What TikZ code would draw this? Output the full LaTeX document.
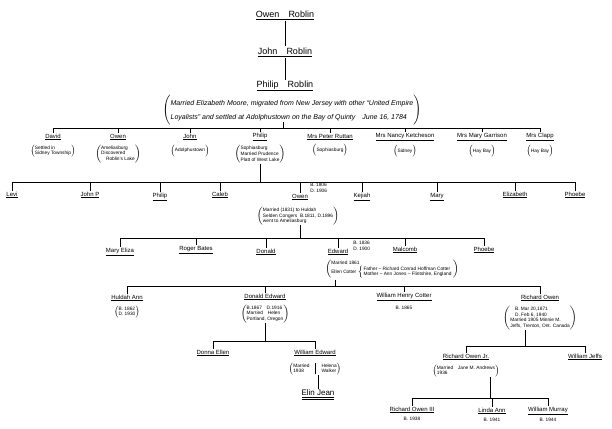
\documentclass[tikz,border=0pt]{standalone}
\usepackage{fontspec}
\setmainfont{Liberation Sans}
\usetikzlibrary{positioning}
\newcommand{\paren}[1]{$\left(\mbox{\begin{tabular}{@{}l@{}}#1\end{tabular}}\right)$}
\newcommand{\ul}[1]{\underline{#1}}
\tikzset{
  person/.style={font=\fontsize{6}{7}\selectfont, inner sep=1pt},
  top/.style={font=\fontsize{9}{10}\selectfont, inner sep=1pt},
  note/.style={font=\fontsize{4.8}{5.6}\selectfont, inner sep=0pt, align=left},
  line/.style={line width=0.5pt}
}
\begin{document}
\begin{tikzpicture}[x=1pt,y=-1pt,line]
    \useasboundingbox (0,0) rectangle (612,428);
    % first generations
    \node[top] (owen0) at (285,15) {\ul{Owen\quad Roblin}};
    \node[top] (john0) at (285,52) {\ul{John\quad Roblin}};
    \node[top] (philip0) at (285,86) {\ul{Philip\quad Roblin}};
    \draw (owen0.south) -- (john0.north);
    \draw (john0.south) -- (philip0.north);
    \node[font=\fontsize{7}{14}\selectfont\itshape, inner sep=0pt] (moore) at (292,110)
      {\paren{Married Elizabeth Moore, migrated from New Jersey with other ``United Empire\\
       Loyalists'' and settled at Adolphustown on the Bay of Quinty\quad June 16, 1784}};
    % his children
    \coordinate (b1) at (283,128);
    \draw (283,122) -- (b1);
    \node[person] (david) at (53,137) {\ul{David}};
    \node[person] (owen1) at (118,137) {\ul{Owen}};
    \node[person] (john1) at (190,137) {\ul{John}};
    \node[person] (philip1) at (260,137) {\ul{Philip}};
    \node[person] (ruttan) at (330,137) {\ul{Mrs Peter Ruttan}};
    \node[person] (ketch) at (405,137) {\ul{Mrs Nancy Ketcheson}};
    \node[person] (garr) at (482,137) {\ul{Mrs Mary Garrison}};
    \node[person] (clapp) at (540,137) {\ul{Mrs Clapp}};
    \foreach \c in {david,owen1,john1,philip1,ruttan,ketch,garr,clapp}
      \draw (b1) -| (\c.north);
    \node[note, below=3pt of david] {\paren{Settled in\\Sidney Township}};
    \node[note, below=3pt of owen1] (amel) {\paren{Ameliasburg\\Discovered\\\quad Roblin's Lake}};
    \node[note, below=3pt of john1] {\paren{Adolphustown}};
    \node[note, below=3pt of philip1] (soph) {\paren{Sophiasburg\\Married Prudence\\Platt of West Lake}};
    \node[note, below=3pt of ruttan] {\paren{Sophiasburg}};
    \node[note, below=3pt of ketch] {\paren{Sidney}};
    \node[note, below=3pt of garr] {\paren{Hay Bay}};
    \node[note, below=3pt of clapp] {\paren{Hay Bay}};
    % Philip's children
    \coordinate (b2) at (260,182);
    \draw (soph.south) -- (b2);
    \node[person] (levi) at (12,195) {\ul{Levi}};
    \node[person] (johnp) at (90,195) {\ul{John P}};
    \node[person] (philip2) at (160,197) {\ul{Philip}};
    \node[person] (caleb) at (220,195) {\ul{Caleb}};
    \node[person] (owen2) at (300,197) {\ul{Owen}};
    \node[person] (kejiah) at (362,197) {\ul{Kejiah}};
    \node[person] (mary) at (437,197) {\ul{Mary}};
    \node[person] (eliz) at (515,195) {\ul{Elizabeth}};
    \node[person] (phoebe1) at (575,195) {\ul{Phoebe}};
    \foreach \c in {levi,johnp,philip2,caleb,owen2,kejiah,mary,eliz,phoebe1}
      \draw (b2) -| (\c.north);
    \node[note, anchor=west] at (310,188) {B. 1806\\D. 1906};
    \node[note] (huldah0) at (298,216) {\paren{Married (1831) to Huldah\\Selden Congers \ B.1811, D.1896\\went to Ameliasburg}};
    % Owen's children
    \coordinate (b3) at (300,238);
    \draw (huldah0.south -| b3) -- (b3);
    \node[person] (maryel) at (120,252) {\ul{Mary Eliza}};
    \node[person] (roger) at (196,250) {\ul{Roger Bates}};
    \node[person] (donald) at (266,252) {\ul{Donald}};
    \node[person] (edward) at (338,252) {\ul{Edward}};
    \node[person] (malcomb) at (405,250) {\ul{Malcomb}};
    \node[person] (phoebe2) at (484,250) {\ul{Phoebe}};
    \foreach \c in {maryel,roger,donald,edward,malcomb,phoebe2}
      \draw (b3) -| (\c.north);
    \node[note, anchor=west] at (353,246) {B. 1836\\D. 1900};
    \node[note] (cotter) at (392,269) {\paren{Married 1861\\Ellen Cotter $\left\{\mbox{\begin{tabular}{@{}l@{}}Father -- Richard Conrad Hoffman Cotter\\Mother -- Ann Jones -- Flintshire, England\end{tabular}}\right.$}};
    % Edward's children
    \coordinate (b4) at (335,286);
    \draw (335,280) -- (b4);
    \node[person] (huldah) at (127,298) {\ul{Huldah Ann}};
    \node[person] (donald2) at (265,297) {\ul{Donald Edward}};
    \node[person] (william) at (404,297) {\ul{William Henry Cotter}};
    \node[person] (richard) at (540,298) {\ul{Richard Owen}};
    \foreach \c in {huldah,donald2,william,richard}
      \draw (b4) -| (\c.north);
    \node[note, below=3pt of huldah] {\paren{B. 1862\\D. 1930}};
    \node[note, below=3pt of donald2] (helen) {\paren{B.1867\quad D.1916\\Married\quad Helen\\Portland, Oregon}};
    \node[note, below=4pt of william] {B. 1865};
    \node[note, below=3pt of richard] (minnie) {\paren{\quad B. Mar 20,1871\\\quad D. Feb 6, 1940\\Married 1905 Minnie M.\\Jeffs, Trenton, Ont. Canada}};
    % Donald Edward's children
    \coordinate (b5) at (265,341);
    \draw (helen.south -| b5) -- (b5);
    \node[person] (donna) at (213,353) {\ul{Donna Ellen}};
    \node[person] (willed) at (315,353) {\ul{William Edward}};
    \foreach \c in {donna,willed}
      \draw (b5) -| (\c.north);
    \node[note, below=5pt of willed] (helena)
      {$\left(\mbox{\begin{tabular}{@{}l|l@{}}Married & Helena\\1938 & Walker\end{tabular}}\right)$};
    \node[font=\fontsize{8}{9}\selectfont, inner sep=1pt] (elin) at (318,395) {\ul{\ul{Elin Jean}}};
    \coordinate (hw) at ([xshift=3pt]helena.south);
    \draw (hw) -- (hw |- elin.north);
    % Richard Owen's children
    \coordinate (b6) at (525,346);
    \draw (minnie.south -| b6) -- (b6);
    \node[person] (rojr) at (466,357) {\ul{Richard Owen Jr.}};
    \node[person] (jeffs) at (585,357) {\ul{William Jeffs}};
    \foreach \c in {rojr,jeffs}
      \draw (b6) -| (\c.north);
    \node[note, below=3pt of rojr] (jane) {\paren{Married\quad Jane M. Andrews\\1936}};
    % Richard Owen Jr.'s children
    \coordinate (b7) at (490,398);
    \draw (jane.south -| b7) -- (b7);
    \node[person] (ro3) at (412,410) {\ul{Richard Owen III}};
    \node[person] (linda) at (492,411) {\ul{Linda Ann}};
    \node[person] (wmur) at (548,411) {\ul{William Murray}};
    \foreach \c in {ro3,linda,wmur}
      \draw (b7) -| (\c.north);
    \node[note, below=2pt of ro3] {B. 1938};
    \node[note, below=2pt of linda] {B. 1941};
    \node[note, below=2pt of wmur] {B. 1944};
\end{tikzpicture}
\end{document}
